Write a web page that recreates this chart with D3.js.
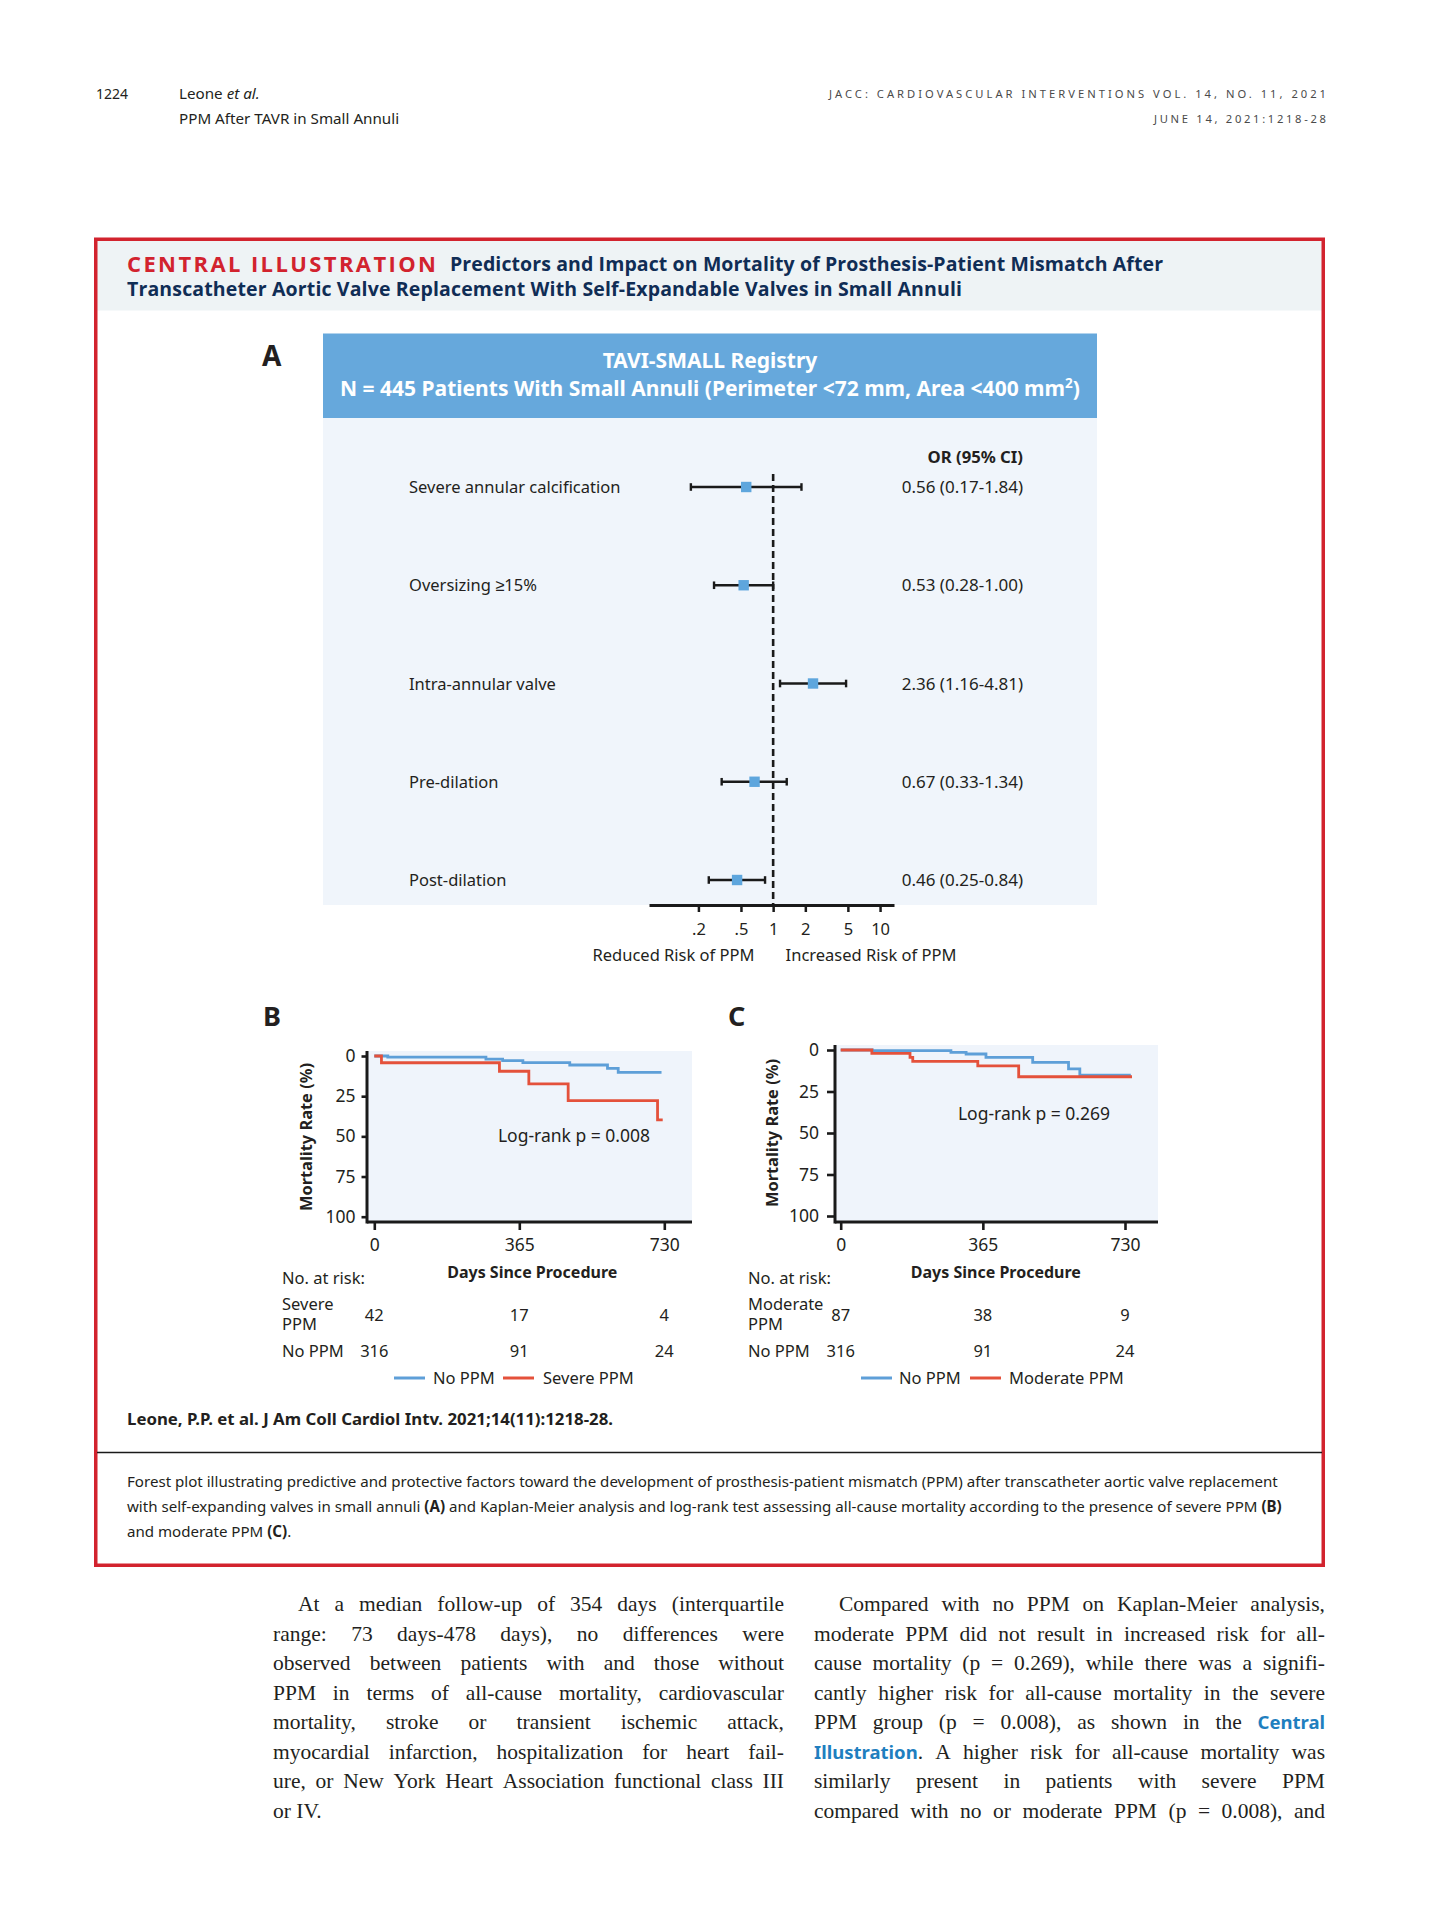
<!DOCTYPE html>
<html>
<head>
<meta charset="utf-8">
<script src="https://cdn.jsdelivr.net/npm/d3@7"></script>
<style>
  body { margin: 0; background: #fff; }
  #page { font-family: "Noto Sans", sans-serif; fill: #231f20; }
  .body { font-family: "Liberation Serif", serif; font-size: 21.5px; fill: #231f20; }
  .link { font-family: "Noto Sans", sans-serif; font-weight: 700; fill: #1f7fbf; font-size: 18.5px; }
</style>
</head>
<body>
<svg id="page" width="1429" height="1920"></svg>
<script>
// ---- forest plot (panel A) ----
const predictors = ["Severe annular calcification", "Oversizing \u226515%", "Intra-annular valve", "Pre-dilation", "Post-dilation"];
const orValues = [0.56, 0.53, 2.36, 0.67, 0.46];
const ciLow = [0.17, 0.28, 1.16, 0.33, 0.25];
const ciHigh = [1.84, 1.00, 4.81, 1.34, 0.84];
const orLabels = ["0.56 (0.17-1.84)", "0.53 (0.28-1.00)", "2.36 (1.16-4.81)", "0.67 (0.33-1.34)", "0.46 (0.25-0.84)"];
const orTicks = [0.2, 0.5, 1, 2, 5, 10];
const orTickLabels = [".2", ".5", "1", "2", "5", "10"];

// ---- Kaplan-Meier (panels B, C) ----
const kmTicksX = [0, 365, 730];
const kmTicksY = [0, 25, 50, 75, 100];
const bNoPpmDays = [0, 34, 281, 323, 374, 492, 587, 614, 723];
const bNoPpmPct = [0, 0.7, 1.9, 2.9, 4.1, 5.6, 7.7, 10.2, 10.2];
const bSevereDays = [0, 18, 315, 389, 488, 713, 726];
const bSeverePct = [0, 4.2, 9.5, 17.4, 27.8, 39.8, 39.8];
const cNoPpmDays = [0, 81, 283, 322, 373, 493, 585, 614, 745];
const cNoPpmPct = [0, 0.4, 1.4, 2.4, 4.4, 7.4, 11.4, 15.1, 15.1];
const cModerateDays = [0, 80, 178, 185, 352, 457, 748];
const cModeratePct = [0, 2.0, 4.4, 6.8, 9.6, 16.1, 16.1];
const bRiskSevere = [42, 17, 4];
const bRiskNoPpm = [316, 91, 24];
const cRiskModerate = [87, 38, 9];
const cRiskNoPpm = [316, 91, 24];

// ---- page text ----
const leftColumn = [
  "At a median follow-up of 354 days (interquartile",
  "range: 73 days-478 days), no differences were",
  "observed between patients with and those without",
  "PPM in terms of all-cause mortality, cardiovascular",
  "mortality, stroke or transient ischemic attack,",
  "myocardial infarction, hospitalization for heart fail-",
  "ure, or New York Heart Association functional class III",
  "or IV."
];
const rightColumn = [
  "Compared with no PPM on Kaplan-Meier analysis,",
  "moderate PPM did not result in increased risk for all-",
  "cause mortality (p = 0.269), while there was a signifi-",
  "cantly higher risk for all-cause mortality in the severe",
  "PPM group (p = 0.008), as shown in the *Central*",
  "*Illustration*. A higher risk for all-cause mortality was",
  "similarly present in patients with severe PPM",
  "compared with no or moderate PPM (p = 0.008), and"
];
const captionLines = [
  "Forest plot illustrating predictive and protective factors toward the development of prosthesis-patient mismatch (PPM) after transcatheter aortic valve replacement",
  "with self-expanding valves in small annuli *(A)* and Kaplan-Meier analysis and log-rank test assessing all-cause mortality according to the presence of severe PPM *(B)*",
  "and moderate PPM *(C)*."
];

const blue = "#5e9fd8", red = "#e4513b", navy = "#102d55";
const svg = d3.select("#page");

// running header
svg.append("text").attr("x", 96).attr("y", 99).attr("font-size", 14).text("1224");
const hdr = svg.append("text").attr("x", 179).attr("y", 99).attr("font-size", 15.2);
hdr.append("tspan").text("Leone ");
hdr.append("tspan").attr("font-style", "italic").text("et al.");
svg.append("text").attr("x", 179).attr("y", 124).attr("font-size", 15.2).text("PPM After TAVR in Small Annuli");
svg.append("text").attr("x", 829).attr("y", 98).attr("font-size", 11.2).attr("fill", "#4a4a4a")
  .attr("textLength", 497).attr("lengthAdjust", "spacing")
  .text("JACC: CARDIOVASCULAR INTERVENTIONS VOL. 14, NO. 11, 2021");
svg.append("text").attr("x", 1154).attr("y", 123).attr("font-size", 11.2).attr("fill", "#4a4a4a")
  .attr("textLength", 172).attr("lengthAdjust", "spacing")
  .text("JUNE 14, 2021:1218-28");

// frame + title band
svg.append("rect").attr("x", 97).attr("y", 240.5).attr("width", 1225).attr("height", 70).attr("fill", "#eef3f5");
svg.append("rect").attr("x", 95.75).attr("y", 239.25).attr("width", 1227.5).attr("height", 1326)
  .attr("fill", "none").attr("stroke", "#d2232e").attr("stroke-width", 3.5);
svg.append("text").attr("x", 127).attr("y", 271.5).attr("font-family", "Open Sans").attr("font-weight", 700)
  .attr("font-size", 22).attr("fill", "#d2232e").attr("textLength", 309).attr("lengthAdjust", "spacing")
  .text("CENTRAL ILLUSTRATION");
svg.append("text").attr("x", 450).attr("y", 271).attr("font-family", "Open Sans").attr("font-weight", 700)
  .attr("font-size", 19.5).attr("fill", navy).attr("textLength", 713).attr("lengthAdjust", "spacing")
  .text("Predictors and Impact on Mortality of Prosthesis-Patient Mismatch After");
svg.append("text").attr("x", 127).attr("y", 296).attr("font-family", "Open Sans").attr("font-weight", 700)
  .attr("font-size", 19.5).attr("fill", navy).attr("textLength", 835).attr("lengthAdjust", "spacing")
  .text("Transcatheter Aortic Valve Replacement With Self-Expandable Valves in Small Annuli");

// ---------- panel A ----------
svg.append("text").attr("x", 262).attr("y", 366).attr("font-size", 28).attr("font-weight", 700).text("A");
svg.append("rect").attr("x", 323).attr("y", 333.5).attr("width", 774).attr("height", 84.5).attr("fill", "#66a8dc");
svg.append("rect").attr("x", 323).attr("y", 418).attr("width", 774).attr("height", 487).attr("fill", "#f0f5fb");
svg.append("text").attr("x", 710).attr("y", 368).attr("text-anchor", "middle").attr("font-size", 21)
  .attr("font-weight", 700).attr("fill", "#fff").text("TAVI-SMALL Registry");
const nLine = svg.append("text").attr("x", 710).attr("y", 395.5).attr("text-anchor", "middle")
  .attr("font-size", 21).attr("font-weight", 700).attr("fill", "#fff");
nLine.append("tspan").text("N = 445 Patients With Small Annuli (Perimeter <72 mm, Area <400 mm");
nLine.append("tspan").attr("font-size", 13.5).attr("dy", -8).text("2");
nLine.append("tspan").attr("dy", 8).text(")");

const xOR = d3.scaleLog().domain([0.069, 13.5]).range([649, 894]);
const yRow = d3.scalePoint().domain(predictors).range([487, 880]);
const fp = svg.append("g");

fp.append("text").attr("x", 1023).attr("y", 463).attr("text-anchor", "end").attr("font-size", 16.7)
  .attr("font-weight", 700).text("OR (95% CI)");
fp.selectAll("text.lab").data(predictors).join("text").attr("class", "lab")
  .attr("x", 409).attr("y", d => yRow(d) + 6).attr("font-size", 16.5).text(d => d);
fp.selectAll("text.or").data(predictors).join("text").attr("class", "or")
  .attr("x", 1023).attr("y", d => yRow(d) + 6).attr("text-anchor", "end").attr("font-size", 17)
  .text((d, i) => orLabels[i]);

fp.append("line").attr("x1", xOR(1)).attr("x2", xOR(1)).attr("y1", 474).attr("y2", 905)
  .attr("stroke", "#1a1a1a").attr("stroke-width", 2.6).attr("stroke-dasharray", "7,4");
fp.selectAll("line.ci").data(predictors).join("line").attr("class", "ci")
  .attr("x1", (d, i) => xOR(ciLow[i])).attr("x2", (d, i) => xOR(ciHigh[i]))
  .attr("y1", d => yRow(d)).attr("y2", d => yRow(d)).attr("stroke", "#1a1a1a").attr("stroke-width", 2.6);
[ciLow, ciHigh].forEach(arr => {
  fp.selectAll(null).data(predictors).join("line")
    .attr("x1", (d, i) => xOR(arr[i])).attr("x2", (d, i) => xOR(arr[i]))
    .attr("y1", d => yRow(d) - 3.8).attr("y2", d => yRow(d) + 3.8)
    .attr("stroke", "#1a1a1a").attr("stroke-width", 2.4);
});
fp.selectAll("rect.pt").data(predictors).join("rect").attr("class", "pt")
  .attr("x", (d, i) => xOR(orValues[i]) - 5.2).attr("y", d => yRow(d) - 5.2)
  .attr("width", 10.4).attr("height", 10.4).attr("fill", "#5ea6dd");

const axA = fp.append("g").attr("transform", "translate(0,905)")
  .call(d3.axisBottom(xOR).tickValues(orTicks).tickFormat((d, i) => orTickLabels[i])
    .tickSize(7).tickSizeOuter(0).tickPadding(11));
axA.attr("font-family", null).attr("font-size", null);
axA.select(".domain").attr("stroke", "#1a1a1a").attr("stroke-width", 3);
axA.selectAll(".tick line").attr("stroke", "#1a1a1a").attr("stroke-width", 2.5);
axA.selectAll(".tick text").attr("font-size", 16.5).attr("fill", "#231f20");
fp.append("text").attr("x", 673.5).attr("y", 960.5).attr("text-anchor", "middle").attr("font-size", 16.5).text("Reduced Risk of PPM");
fp.append("text").attr("x", 871).attr("y", 960.5).attr("text-anchor", "middle").attr("font-size", 16.5).text("Increased Risk of PPM");

// ---------- panels B, C ----------
function drawKM(o) {
  const g = svg.append("g");
  g.append("text").attr("x", o.letterX).attr("y", 1025.5).attr("font-size", 27).attr("font-weight", 700).text(o.letter);
  const x = d3.scaleLinear().domain([0, 730]).range(o.xr);
  const y = d3.scaleLinear().domain([0, 100]).range(o.yr);
  g.append("rect").attr("x", o.axisX).attr("y", o.bgTop).attr("width", o.right - o.axisX)
    .attr("height", 1222 - o.bgTop).attr("fill", "#eff4fb");

  const line = d3.line().x(d => x(d[0])).y(d => y(d[1])).curve(d3.curveStepAfter);
  g.append("path").datum(d3.zip(o.refDays, o.refPct)).attr("d", line)
    .attr("fill", "none").attr("stroke", blue).attr("stroke-width", 2.8);
  g.append("path").datum(d3.zip(o.grpDays, o.grpPct)).attr("d", line)
    .attr("fill", "none").attr("stroke", red).attr("stroke-width", 2.8);

  const ay = g.append("g").attr("transform", `translate(${o.axisX},0)`)
    .call(d3.axisLeft(y).tickValues(kmTicksY).tickSize(o.tickY).tickPadding(o.padY));
  ay.attr("font-family", null).attr("font-size", null);
  ay.select(".domain").remove();
  ay.selectAll(".tick line").attr("stroke", "#1a1a1a").attr("stroke-width", 2.6);
  ay.selectAll(".tick text").attr("font-size", 17.5).attr("fill", "#231f20");
  g.append("line").attr("x1", o.axisX).attr("x2", o.axisX).attr("y1", o.bgTop).attr("y2", 1223.5)
    .attr("stroke", "#1a1a1a").attr("stroke-width", 3);

  const ax = g.append("g").attr("transform", "translate(0,1222)")
    .call(d3.axisBottom(x).tickValues(kmTicksX).tickSize(8).tickPadding(9));
  ax.attr("font-family", null).attr("font-size", null);
  ax.select(".domain").remove();
  ax.selectAll(".tick line").attr("stroke", "#1a1a1a").attr("stroke-width", 2.6);
  ax.selectAll(".tick text").attr("font-size", 17.5).attr("fill", "#231f20");
  g.append("line").attr("x1", o.axisX).attr("x2", o.right).attr("y1", 1222).attr("y2", 1222)
    .attr("stroke", "#1a1a1a").attr("stroke-width", 3);

  g.append("text").attr("transform", `translate(${o.titleX},${o.titleY}) rotate(-90)`)
    .attr("text-anchor", "middle").attr("font-size", 16.4).attr("font-weight", 700).text("Mortality Rate (%)");
  g.append("text").attr("x", o.pX).attr("y", o.pY).attr("text-anchor", "middle").attr("font-size", 17.5).text(o.pText);
  g.append("text").attr("x", x(365) + 13).attr("y", 1277.5).attr("text-anchor", "middle").attr("font-size", 16)
    .attr("font-weight", 700).text("Days Since Procedure");

  g.append("text").attr("x", o.tabX).attr("y", 1283.5).attr("font-size", 16.5).text("No. at risk:");
  g.append("text").attr("x", o.tabX).attr("y", 1310).attr("font-size", 16.5).text(o.grpWord);
  g.append("text").attr("x", o.tabX).attr("y", 1330).attr("font-size", 16.5).text("PPM");
  g.append("text").attr("x", o.tabX).attr("y", 1357).attr("font-size", 16.5).text("No PPM");
  g.selectAll(null).data(kmTicksX).join("text").attr("x", d => x(d)).attr("y", 1320.5)
    .attr("text-anchor", "middle").attr("font-size", 16.5).text((d, i) => o.grpRisk[i]);
  g.selectAll(null).data(kmTicksX).join("text").attr("x", d => x(d)).attr("y", 1357)
    .attr("text-anchor", "middle").attr("font-size", 16.5).text((d, i) => o.refRisk[i]);

  const lg = [["No PPM", blue, o.leg[0], o.leg[1]], [o.grpWord + " PPM", red, o.leg[2], o.leg[3]]];
  lg.forEach(([t, c, x0, tx]) => {
    g.append("line").attr("x1", x0).attr("x2", x0 + 31).attr("y1", 1378).attr("y2", 1378)
      .attr("stroke", c).attr("stroke-width", 3);
    g.append("text").attr("x", tx).attr("y", 1384).attr("font-size", 16.5).text(t);
  });
}

drawKM({
  letter: "B", letterX: 263, xr: [374.3, 664.3], yr: [1056, 1216.7], axisX: 367, right: 692, bgTop: 1051,
  tickY: 5.5, padY: 6, titleX: 312, titleY: 1137, pX: 574, pY: 1142, pText: "Log-rank p = 0.008",
  tabX: 282, grpWord: "Severe", grpRisk: bRiskSevere, refRisk: bRiskNoPpm,
  refDays: bNoPpmDays, refPct: bNoPpmPct, grpDays: bSevereDays, grpPct: bSeverePct,
  leg: [394, 433, 503, 543]
});
drawKM({
  letter: "C", letterX: 728, xr: [840.7, 1125], yr: [1050, 1216], axisX: 835, right: 1158, bgTop: 1045,
  tickY: 8, padY: 8, titleX: 778, titleY: 1133, pX: 1034, pY: 1120, pText: "Log-rank p = 0.269",
  tabX: 748, grpWord: "Moderate", grpRisk: cRiskModerate, refRisk: cRiskNoPpm,
  refDays: cNoPpmDays, refPct: cNoPpmPct, grpDays: cModerateDays, grpPct: cModeratePct,
  leg: [861, 899, 970, 1009]
});

// citation, rule, caption
svg.append("text").attr("x", 127).attr("y", 1424.5).attr("font-size", 16).attr("font-weight", 700)
  .attr("textLength", 486).attr("lengthAdjust", "spacingAndGlyphs")
  .text("Leone, P.P. et al. J Am Coll Cardiol Intv. 2021;14(11):1218-28.");
svg.append("line").attr("x1", 97).attr("x2", 1322).attr("y1", 1452.5).attr("y2", 1452.5)
  .attr("stroke", "#1a1a1a").attr("stroke-width", 1.5);
captionLines.forEach((s, i) => {
  const t = svg.append("text").attr("x", 127).attr("y", 1487 + i * 24.8).attr("font-size", 15.1);
  s.split(/(\*[^*]+\*)/).forEach(part => {
    if (!part) return;
    const bold = part.startsWith("*");
    t.append("tspan").attr("font-weight", bold ? 700 : null).text(part.replace(/\*/g, ""));
  });
});

// body text, justified word by word
function setColumn(lines, x0, width, lastRagged) {
  lines.forEach((s, i) => {
    const y = 1611 + i * 29.55;
    const indent = i === 0 ? 25 : 0;
    const words = s.split(" ").map(w => {
      const t = svg.append("text").attr("class", "body").attr("y", y);
      const m = w.match(/^\*(.+)\*(.*)$/);
      if (m) {
        t.append("tspan").attr("class", "link").text(m[1]);
        if (m[2]) t.append("tspan").text(m[2]);
      } else t.text(w);
      return { t, w: t.node().getComputedTextLength() };
    });
    const total = d3.sum(words, d => d.w);
    const ragged = lastRagged && i === lines.length - 1;
    const gap = ragged ? 5.4 : (width - indent - total) / (words.length - 1);
    let cx = x0 + indent;
    words.forEach(d => { d.t.attr("x", cx); cx += d.w + gap; });
  });
}
setColumn(leftColumn, 273, 511, true);
setColumn(rightColumn, 814, 511, false);
</script>
</body>
</html>
